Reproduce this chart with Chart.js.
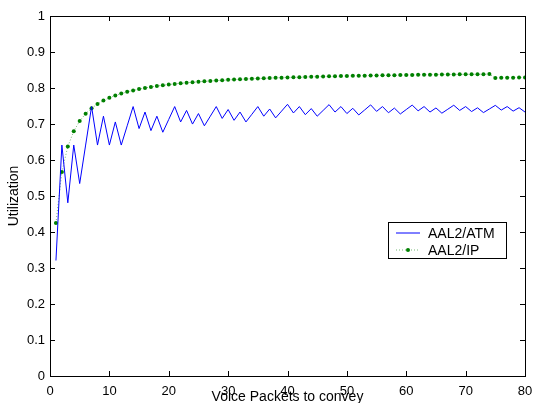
<!DOCTYPE html>
<html>
<head>
<meta charset="utf-8">
<script src="https://cdn.jsdelivr.net/npm/chart.js@4.4.0/dist/chart.umd.min.js"></script>
<style>
  html, body { margin: 0; padding: 0; background: #fff; }
  #wrap { width: 533px; height: 403px; }
</style>
</head>
<body>
<div id="wrap"><canvas id="myChart" width="533" height="403"></canvas></div>
<script>
// voice packets per frame (x) and utilization of the two encapsulations
const packets = [1,2,3,4,5,6,7,8,9,10,11,12,13,14,15,16,17,18,19,20,
  21,22,23,24,25,26,27,28,29,30,31,32,33,34,35,36,37,38,39,40,
  41,42,43,44,45,46,47,48,49,50,51,52,53,54,55,56,57,58,59,60,
  61,62,63,64,65,66,67,68,69,70,71,72,73,74,75,76,77,78,79,80];

const aal2Atm = [0.3208,0.6415,0.4811,0.6415,0.5346,0.6415,0.7484,0.6415,0.7217,0.6415,
  0.7057,0.6415,0.6950,0.7484,0.6873,0.7332,0.6816,0.7217,0.6771,0.7128,
  0.7484,0.7057,0.7377,0.6998,0.7290,0.6950,0.7217,0.7484,0.7155,0.7402,
  0.7102,0.7332,0.7057,0.7270,0.7484,0.7217,0.7417,0.7170,0.7358,0.7547,
  0.7306,0.7484,0.7259,0.7428,0.7217,0.7377,0.7538,0.7332,0.7484,0.7290,
  0.7436,0.7252,0.7391,0.7531,0.7351,0.7484,0.7313,0.7442,0.7279,0.7402,
  0.7525,0.7366,0.7484,0.7332,0.7446,0.7300,0.7411,0.7521,0.7377,0.7484,
  0.7346,0.7450,0.7317,0.7417,0.7518,0.7387,0.7484,0.7358,0.7453,0.7332];

const aal2Ip = [0.4250,0.5667,0.6375,0.6800,0.7083,0.7286,0.7438,0.7556,0.7650,0.7727,
  0.7792,0.7846,0.7893,0.7933,0.7969,0.8000,0.8028,0.8053,0.8075,0.8095,
  0.8114,0.8130,0.8146,0.8160,0.8173,0.8185,0.8196,0.8207,0.8217,0.8226,
  0.8234,0.8242,0.8250,0.8257,0.8264,0.8270,0.8276,0.8282,0.8288,0.8293,
  0.8298,0.8302,0.8307,0.8311,0.8315,0.8319,0.8323,0.8327,0.8330,0.8333,
  0.8337,0.8340,0.8343,0.8345,0.8348,0.8351,0.8353,0.8356,0.8358,0.8361,
  0.8363,0.8365,0.8367,0.8369,0.8371,0.8373,0.8375,0.8377,0.8379,0.8380,
  0.8382,0.8384,0.8385,0.8387,0.8279,0.8282,0.8285,0.8288,0.8290,0.8293];

const xTicks = [0,10,20,30,40,50,60,70,80];
const yTicks = [0,0.1,0.2,0.3,0.4,0.5,0.6,0.7,0.8,0.9,1];

const FONT = "'Liberation Sans', Arial, Helvetica, sans-serif";
const BLUE = '#0000ff';
const GREEN = '#008000';
const GREEN_LINE = 'rgba(0,128,0,0.55)';

function toPoints(ys) {
  return packets.map((x, i) => ({ x: x, y: ys[i] }));
}

// box round the plot with inward ticks on all four sides
const boxPlugin = {
  id: 'box',
  afterDraw(chart) {
    const ctx = chart.ctx;
    const a = chart.chartArea;
    const xs = chart.scales.x, ys = chart.scales.y;
    ctx.save();
    ctx.strokeStyle = '#000';
    ctx.lineWidth = 1;
    ctx.strokeRect(Math.round(a.left) + 0.5, Math.round(a.top) + 0.5,
      Math.round(a.right - a.left), Math.round(a.bottom - a.top));
    ctx.beginPath();
    xTicks.forEach(v => {
      const px = Math.round(xs.getPixelForValue(v)) + 0.5;
      ctx.moveTo(px, a.bottom); ctx.lineTo(px, a.bottom - 5);
      ctx.moveTo(px, a.top); ctx.lineTo(px, a.top + 5);
    });
    yTicks.forEach(v => {
      const py = Math.round(ys.getPixelForValue(v)) + 0.5;
      ctx.moveTo(a.left, py); ctx.lineTo(a.left + 5, py);
      ctx.moveTo(a.right, py); ctx.lineTo(a.right - 5, py);
    });
    ctx.stroke();
    ctx.restore();
  }
};

// legend inside the plot, matlab style
const legendStyle = [
  { line: BLUE, dash: [], dot: null },
  { line: GREEN_LINE, dash: [1, 2], dot: GREEN }
];

const legendPlugin = {
  id: 'boxLegend',
  afterDraw(chart) {
    const ctx = chart.ctx;
    const a = chart.chartArea;
    const x0 = Math.round(a.right) - 137, y0 = 222, w = 118, h = 36;
    ctx.save();
    ctx.fillStyle = '#fff';
    ctx.fillRect(x0, y0, w, h);
    ctx.strokeStyle = '#000';
    ctx.lineWidth = 1;
    ctx.strokeRect(x0 + 0.5, y0 + 0.5, w, h);
    ctx.font = '14px ' + FONT;
    ctx.textBaseline = 'middle';
    chart.data.datasets.forEach((ds, i) => {
      const st = legendStyle[i];
      const yy = Math.round(y0 + 11 + i * 16.5);
      ctx.strokeStyle = st.line;
      ctx.lineWidth = 1;
      ctx.setLineDash(st.dash);
      ctx.beginPath();
      ctx.moveTo(x0 + 8, yy);
      ctx.lineTo(x0 + 32, yy);
      ctx.stroke();
      ctx.setLineDash([]);
      if (st.dot) {
        ctx.fillStyle = st.dot;
        ctx.beginPath();
        ctx.arc(x0 + 20, yy, 2, 0, Math.PI * 2);
        ctx.fill();
      }
      ctx.fillStyle = '#000';
      ctx.fillText(ds.label, x0 + 40, yy + 1);
    });
    ctx.restore();
  }
};

const ctx = document.getElementById('myChart');

new Chart(ctx, {
  type: 'line',
  data: {
    datasets: [{
      label: 'AAL2/ATM',
      data: toPoints(aal2Atm),
      borderColor: BLUE,
      borderWidth: 1,
      pointRadius: 0,
      tension: 0
    }, {
      label: 'AAL2/IP',
      data: toPoints(aal2Ip),
      borderColor: GREEN_LINE,
      borderWidth: 1,
      borderDash: [1, 2],
      pointRadius: 2,
      pointBackgroundColor: GREEN,
      pointBorderWidth: 0,
      tension: 0
    }]
  },
  options: {
    responsive: false,
    animation: false,
    layout: { padding: { top: 16, right: 8, left: 0, bottom: 0 } },
    plugins: { legend: { display: false }, tooltip: { enabled: false } },
    scales: {
      x: {
        type: 'linear',
        min: 0, max: 80,
        afterBuildTicks: s => { s.ticks = xTicks.map(v => ({ value: v })); },
        afterFit: s => { s.height = 27; s.paddingLeft = 0; s.paddingRight = 0; },
        grid: { display: false, drawTicks: false },
        border: { display: false },
        ticks: { padding: 8, color: '#000', font: { family: FONT, size: 13 }, maxRotation: 0,
          callback: v => String(v) },
        title: { display: true, text: 'Voice Packets to convey', color: '#000',
          font: { family: FONT, size: 14, lineHeight: 1 }, padding: { top: 0, bottom: -1 } }
      },
      y: {
        min: 0, max: 1,
        afterBuildTicks: s => { s.ticks = yTicks.map(v => ({ value: v })); },
        afterFit: s => { s.width = 50; s.paddingTop = 0; s.paddingBottom = 0; },
        grid: { display: false, drawTicks: false },
        border: { display: false },
        ticks: { padding: 5, color: '#000', font: { family: FONT, size: 13 },
          callback: v => String(v) },
        title: { display: true, text: 'Utilization', color: '#000',
          font: { family: FONT, size: 14 }, padding: { top: 6, bottom: 0 } }
      }
    }
  },
  plugins: [boxPlugin, legendPlugin]
});
</script>
</body>
</html>
